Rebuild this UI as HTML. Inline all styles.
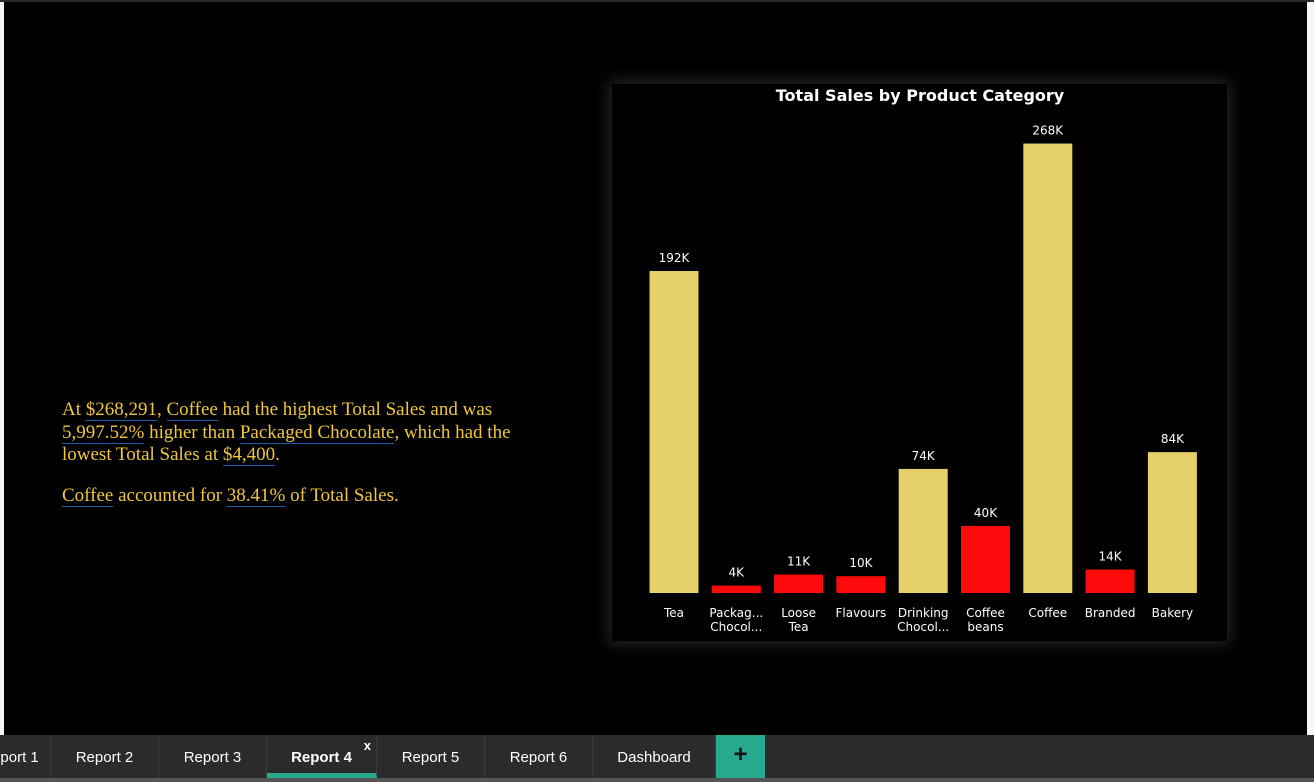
<!DOCTYPE html>
<html><head><meta charset="utf-8"><style>
body{margin:0;width:1314px;height:782px;background:#000;position:relative;overflow:hidden;font-family:"Liberation Sans",sans-serif}
.abs{position:absolute}
.u{border-bottom:1.5px solid #1b5fae}
.tab{position:absolute;top:735px;height:43px;border-right:1px solid #3c3c3c;color:#fff;font-size:15px;line-height:45px;text-align:center;box-sizing:border-box}
</style></head><body>
<div class="abs" style="left:0;top:0;width:1314px;height:2px;background:#2b2b2b"></div>
<div class="abs" style="left:0;top:2px;width:4px;height:733px;background:#f5f5f5"></div>
<div class="abs" style="left:1307px;top:2px;width:7px;height:733px;background:#f5f5f5"></div>
<div class="abs" style="left:62px;top:399px;width:462px;font-family:'Liberation Serif',serif;font-size:19px;line-height:22.5px;color:#f0c63a">
<div>At <span class="u">$268,291</span>, <span class="u">Coffee</span> had the highest Total Sales and was <span class="u">5,997.52%</span> higher than <span class="u">Packaged Chocolate</span>, which had the lowest Total Sales at <span class="u">$4,400</span>.</div>
<div style="margin-top:18px"><span class="u">Coffee</span> accounted for <span class="u">38.41%</span> of Total Sales.</div>
</div>
<div class="abs" style="left:612px;top:84px;width:615px;height:557px;background:#000;box-shadow:0 0 14px 4px #222">
<svg id="chart" width="615" height="557">
<text x="308" y="17" text-anchor="middle" fill="#fff" font-family="DejaVu Sans,sans-serif" font-weight="bold" font-size="16">Total Sales by Product Category</text>
</svg></div>
<script>
const categories=[["Tea"],["Packag...","Chocol..."],["Loose","Tea"],["Flavours"],["Drinking","Chocol..."],["Coffee","beans"],["Coffee"],["Branded"],["Bakery"]];
const values=[192,4.4,11,10,74,40,268,14,84];
const labels=["192K","4K","11K","10K","74K","40K","268K","14K","84K"];
const highlight=[1,0,0,0,1,0,1,0,1];
const svg=document.getElementById('chart');
const NS='http://www.w3.org/2000/svg';
const base=509,scale=1.677,x0=62,step=62.3,bw=49;
const y=v=>base-v*scale, xc=i=>x0+i*step;
values.forEach((v,i)=>{
 const r=document.createElementNS(NS,'rect');
 r.setAttribute('x',xc(i)-bw/2);r.setAttribute('y',y(v));r.setAttribute('width',bw);r.setAttribute('height',v*scale);
 r.setAttribute('fill',highlight[i]?'#e6d06a':'#ff0a0a');
 
 
 svg.appendChild(r);
 const t=document.createElementNS(NS,'text');
 t.setAttribute('x',xc(i));t.setAttribute('y',y(v)-9);t.setAttribute('text-anchor','middle');t.setAttribute('fill','#fff');
 t.setAttribute('font-family','DejaVu Sans,sans-serif');t.setAttribute('font-size','12');t.textContent=labels[i];
 
 
 svg.appendChild(t);
 categories[i].forEach((ln,k)=>{
  const c=document.createElementNS(NS,'text');
  c.setAttribute('x',xc(i));c.setAttribute('y',533+k*14);c.setAttribute('text-anchor','middle');c.setAttribute('fill','#fff');
  c.setAttribute('font-family','DejaVu Sans,sans-serif');c.setAttribute('font-size','12');c.textContent=ln;
  
  
  svg.appendChild(c);
 });
});
</script>
<div class="abs" style="left:0;top:735px;width:1314px;height:43px;background:#2b2b2b"></div>
<div class="abs" style="left:0;top:778px;width:1314px;height:4px;background:#555"></div>
<div class="tab" style="left:-30px;width:81px">Report 1</div>
<div class="tab" style="left:51px;width:108px">Report 2</div>
<div class="tab" style="left:159px;width:108px">Report 3</div>
<div class="tab" style="left:267px;width:110px;font-weight:bold;border-bottom:5px solid #26a98f">Report 4<span style="position:absolute;right:5px;top:-12px;font-size:13px">x</span></div>
<div class="tab" style="left:377px;width:108px">Report 5</div>
<div class="tab" style="left:485px;width:108px">Report 6</div>
<div class="tab" style="left:593px;width:123px">Dashboard</div>
<div class="tab" style="left:716px;width:49px;background:#26a98f;color:#111;font-size:24px;font-weight:bold;line-height:40px;border:none">+</div>
</body></html>
